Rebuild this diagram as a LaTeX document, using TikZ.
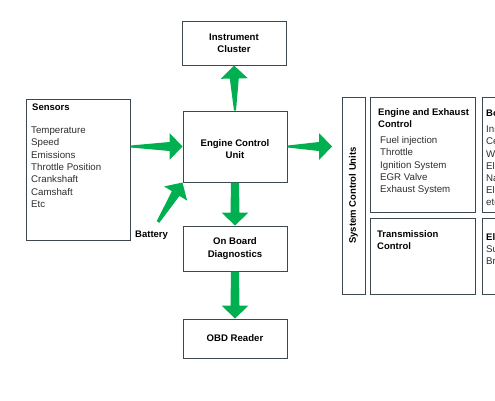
\documentclass[tikz,border=0pt]{standalone}
\usepackage{fontspec}
\setmainfont{Liberation Sans}
\usetikzlibrary{calc}

\definecolor{arrowgreen}{RGB}{0,176,80}
\definecolor{boxline}{RGB}{60,72,78}
\definecolor{listgray}{RGB}{45,45,45}

\tikzset{
    unitbox/.style={draw=boxline, line width=1pt, minimum width=104pt, align=center, inner sep=0pt,
        font=\fontsize{9.6}{12.5}\selectfont\bfseries},
    groupbox/.style={draw=boxline, line width=1pt, inner sep=0pt},
    boxtitle/.style={anchor=north west, align=left, inner sep=0pt,
        font=\fontsize{9.5}{12.2}\selectfont\bfseries},
    boxlist/.style={anchor=north west, align=left, inner sep=0pt, text=listgray,
        font=\fontsize{9.7}{12.4}\selectfont},
}

% tapered block arrow: [tail half width]{from}{to}
\newcommand{\fatarrow}[3][1pt]{%
    \fill[arrowgreen] ($(#2)!#1!90:(#3)$)
        -- ($(#3)!13pt!(#2)!4.5pt!-90:(#2)$)
        -- ($(#3)!13pt!(#2)!13.5pt!-90:(#2)$)
        -- (#3)
        -- ($(#3)!13pt!(#2)!13.5pt!90:(#2)$)
        -- ($(#3)!13pt!(#2)!4.5pt!90:(#2)$)
        -- ($(#2)!#1!-90:(#3)$) -- cycle;
}

\begin{document}
\begin{tikzpicture}[x=1pt,y=-1pt]
            \useasboundingbox (0,0) rectangle (495,400);
            \clip (0,0) rectangle (495,400);

            \node[unitbox, minimum height=44pt] (cluster) at (234,43) {Instrument\\Cluster};
            \node[unitbox, minimum height=71pt, text height=25pt] (ecu) at (235,146.5) {Engine Control\\Unit};
            \node[unitbox, minimum height=45pt] (obd) at (235,248.5) {On Board\\Diagnostics};
            \node[unitbox, minimum height=39pt] (reader) at (235,338.5) {OBD Reader};

            \node[groupbox, minimum width=104pt, minimum height=141pt] (sensors) at (78,169.5) {};
            \node[boxtitle] (sensorstitle) at (32,103.5) {Sensors};
            \node[boxlist] (sensorlist) at (31,126.5) {Temperature\\Speed\\Emissions\\Throttle Position\\Crankshaft\\Camshaft\\Etc};

            \node[boxtitle] (battery) at (135,230.5) {Battery};
            \coordinate (battail) at (158,222);

            \node[groupbox, rotate=90, minimum width=197pt, minimum height=23pt,
                font=\fontsize{9.5}{12}\selectfont\bfseries] (scu) at (353.5,195.5) {System Control Units};
            \coordinate (scutip) at (332,146.5);

            \node[groupbox, minimum width=105pt, minimum height=115pt] (engine) at (422.5,154.5) {};
            \node[boxtitle] (enginetitle) at (378,108.5) {Engine and Exhaust\\Control};
            \node[boxlist] (enginelist) at (380,136) {Fuel injection\\Throttle\\Ignition System\\EGR Valve\\Exhaust System};

            \node[groupbox, minimum width=105pt, minimum height=76pt] (trans) at (422.5,256) {};
            \node[boxtitle] (transtitle) at (377,230.5) {Transmission\\Control};

            \node[groupbox, minimum width=105pt, minimum height=115pt] (body) at (534.5,154.5) {};
            \node[boxtitle] (bodytitle) at (486,109.5) {Body Control};
            \node[boxlist, font=\fontsize{9.7}{12.2}\selectfont] (bodylist) at (486,125.5) {Instrument Panel\\Central Locking\\Windows\\Electric Mirrors\\Navigation\\Electric Seats\\etc};

            \node[groupbox, minimum width=105pt, minimum height=76pt] (chassis) at (534.5,256) {};
            \node[boxtitle] (chassistitle) at (486,233.5) {Electronic Chassis};
            \node[boxlist, font=\fontsize{9.7}{11.5}\selectfont] (chassislist) at (486,245.5) {Suspension\\Brakes};

            \fatarrow{ecu.north}{cluster.south}
            \fatarrow{ecu.east}{scutip}
            \fatarrow{sensors.east |- ecu.west}{ecu.west}
            \fatarrow[1.5pt]{battail}{ecu.south west}
            \fatarrow[4pt]{ecu.south}{obd.north}
            \fatarrow[4pt]{obd.south}{reader.north}
\end{tikzpicture}
\end{document}
